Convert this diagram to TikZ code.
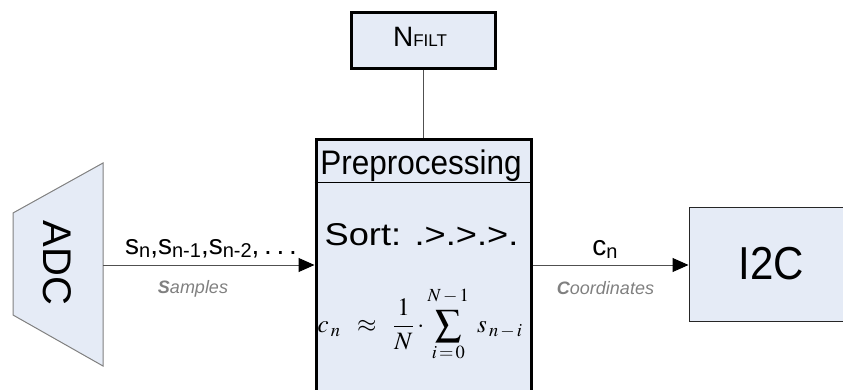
\documentclass[tikz,border=0pt]{standalone}
\usepackage{graphicx}
\usepackage{mathptmx}
\usepackage{fontspec}
\setmainfont{Liberation Sans}
\usetikzlibrary{arrows.meta}
\definecolor{boxfill}{RGB}{229,235,246}
\definecolor{linegray}{RGB}{80,80,80}
\definecolor{labelgray}{RGB}{128,128,128}
\newcommand\lsub[1]{\raisebox{-3pt}{\fontsize{20}{22}\selectfont #1}}
\newcommand\midsum{\mathop{\vcenter{\hbox{\scalebox{1.5}{$\textstyle\sum$}}}}\limits}
\begin{document}
\begin{tikzpicture}[x=1pt,y=-1pt,
  thickbox/.style={draw=black,line width=3pt,fill=boxfill,inner sep=0pt},
  thinbox/.style={draw=linegray,line width=1pt,fill=boxfill,inner sep=0pt},
  conn/.style={draw=linegray,line width=1pt},
  arr/.style={conn,-{Triangle[length=16pt,width=14pt,fill=black,color=black]}},
  txt/.style={inner sep=0pt,outer sep=0pt},
  grylab/.style={txt,text=labelgray,font=\fontsize{18}{20}\selectfont\itshape}]
\useasboundingbox (0,0) rectangle (843,390);
% ADC trapezoid
\path[thinbox,draw=gray] (103,163) -- (13,213) -- (13,315) -- (103,366) -- cycle;
\node[txt,rotate=-90,font=\fontsize{40}{44}\selectfont] (adc) at (57.5,263) {ADC};
\coordinate (adcout) at (103,265);
% Preprocessing box
\node[thickbox,minimum width=215pt,minimum height=256pt,anchor=north west] (pre) at (314.5,138.5) {};
\coordinate (sepl) at (314.5,183);
\coordinate (sepr) at (529.5,183);
\draw[line width=1pt] (sepl) -- (sepr);
\node[txt,anchor=base,yscale=1.08,font=\fontsize{31.5}{36}\selectfont] (ptitle) at (421,175) {Preprocessing};
\node[txt,anchor=base,xscale=1.15,font=\fontsize{31.5}{36}\selectfont] (sort) at (421.5,245) {Sort: .>.>.>.};
\node[txt,font=\fontsize{25}{30}\selectfont] (formula) at (420,324) {$\displaystyle c_{\,n}\;\;\approx\;\;\frac{1}{N}\cdot\midsum_{i\,=\,0}^{\rule[-6pt]{0pt}{0pt}N\,-\,1}\;s_{\,n\,-\,i}$};
% N_FILT box
\node[thickbox,minimum width=144pt,minimum height=56pt,anchor=north west] (nf) at (349.5,11.5) {};
\node[txt,anchor=base,font=\fontsize{28}{30}\selectfont] (nftext) at (420,47) {N{\fontsize{17}{18}\selectfont FILT}};
% I2C box
\node[thinbox,draw=black!85,minimum width=165pt,minimum height=113pt,anchor=north west] (i2c) at (688.5,207.5) {};
\node[txt,anchor=base,yscale=1.1,font=\fontsize{42}{50}\selectfont] (i2ct) at (771.5,279) {I2C};
% connectors
\draw[conn] (nf.south) -- (nf.south |- pre.north);
\draw[arr] (adcout) -- (adcout -| pre.west);
\draw[arr] (pre.east |- adcout) -- (adcout -| i2c.west);
% labels
\node[txt,anchor=base,font=\fontsize{28}{30}\selectfont] (slab) at (211,254) {s\lsub{n},s\lsub{n-1},s\lsub{n-2},\,.\,.\,.};
\node[grylab,anchor=base] (samp) at (193,293) {\textbf{S}amples};
\node[txt,anchor=base,font=\fontsize{28}{30}\selectfont] (clab) at (605,255) {c\lsub{n}};
\node[grylab,anchor=base] (coord) at (605.5,294) {\textbf{C}oordinates};
\end{tikzpicture}
\end{document}
